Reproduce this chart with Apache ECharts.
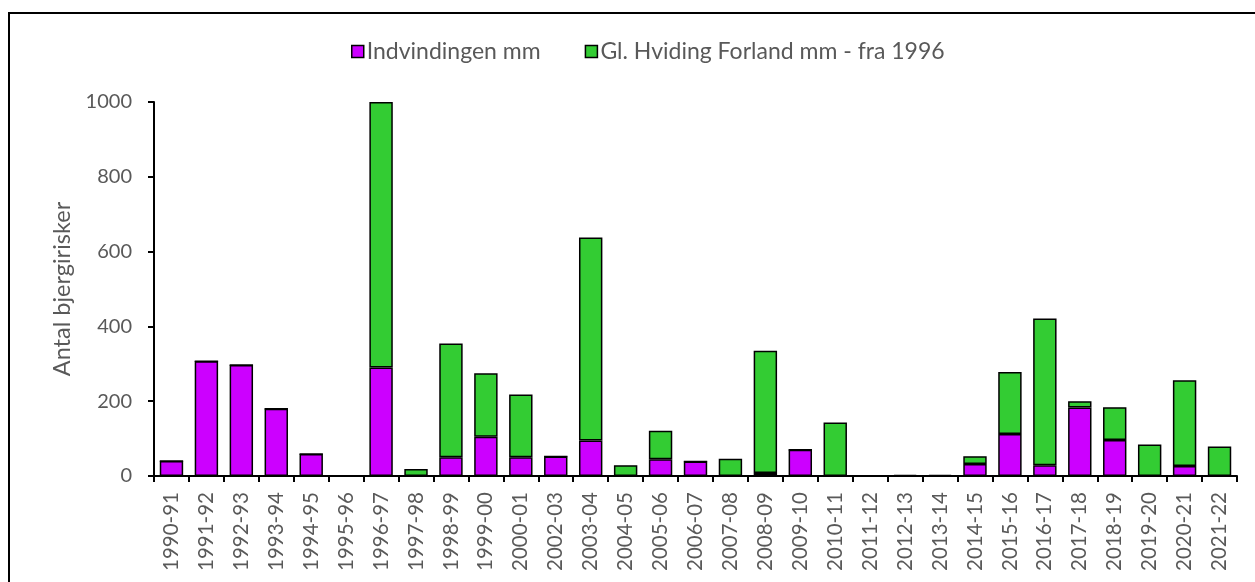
<!DOCTYPE html>
<html>
<head>
<meta charset="utf-8">
<script src="https://cdn.jsdelivr.net/npm/echarts@6/dist/echarts.min.js"></script>
<style>
  html, body { margin: 0; padding: 0; background: #fff; }
  #frame { position: absolute; left: 8px; top: 12px; width: 1260px; height: 600px; border: 2px solid #000; box-sizing: border-box; }
  #main { position: absolute; left: 0; top: 0; width: 1255px; height: 582px; }
</style>
</head>
<body>
<div id="frame"></div>
<div id="main"></div>
<script>
// sæsoner (2001-02 mangler i originalen)
var seasons = ['1990-91', '1991-92', '1992-93', '1993-94', '1994-95', '1995-96', '1996-97', '1997-98',
    '1998-99', '1999-00', '2000-01', '2002-03', '2003-04', '2004-05', '2005-06', '2006-07', '2007-08',
    '2008-09', '2009-10', '2010-11', '2011-12', '2012-13', '2013-14', '2014-15', '2015-16', '2016-17',
    '2017-18', '2018-19', '2019-20', '2020-21', '2021-22']

var indvindingen = [40, 307, 297, 180, 59, 0, 290, 0,
    50, 105, 50, 52, 95, 0, 45, 39, 0,
    8, 70, 0, 0, 0, 0, 32, 112, 29,
    183, 96, 0, 27, 0]

var hvidingForland = [0, 0, 0, 0, 0, 0, 710, 19,
    304, 170, 168, 0, 543, 29, 76, 0, 46,
    327, 0, 143, 0, 3, 3, 21, 166, 392,
    17, 88, 84, 229, 79]

var yTicks = [0, 200, 400, 600, 800, 1000]

var chart = echarts.init(document.getElementById('main'))

var barStyle = function (color) {
    return { color: color, borderColor: '#000', borderWidth: 1.5 }
}

chart.setOption({
    animation: false,
    textStyle: { fontFamily: 'Lato' },
    legend: {
        top: 35,
        left: 346,
        icon: 'rect',
        itemWidth: 12,
        itemHeight: 12,
        itemGap: 44,
        itemStyle: { borderColor: '#000', borderWidth: 1.5 },
        textStyle: { fontSize: 23, color: '#595959', fontFamily: 'Lato', padding: [0, 0, 0, -2] },
        data: ['Indvindingen mm', 'Gl. Hviding Forland mm - fra 1996']
    },
    grid: { left: 154, right: 18, top: 102, bottom: 106 },
    xAxis: {
        type: 'category',
        data: seasons,
        axisLine: { lineStyle: { color: '#000', width: 2 } },
        axisTick: { show: true, alignWithLabel: false, length: 6, lineStyle: { color: '#000', width: 2 } },
        axisLabel: { rotate: 90, interval: 0, fontSize: 20.5, color: '#595959', margin: 16, fontFamily: 'Lato' }
    },
    yAxis: {
        type: 'value',
        min: 0,
        max: yTicks[yTicks.length - 1],
        interval: 200,
        name: 'Antal bjergirisker',
        nameLocation: 'middle',
        nameGap: 80,
        nameTextStyle: { fontSize: 23.5, color: '#595959', fontFamily: 'Lato' },
        axisLine: { show: true, lineStyle: { color: '#000', width: 2 } },
        axisTick: { show: true, length: 6, lineStyle: { color: '#000', width: 2 } },
        axisLabel: { fontSize: 20, color: '#595959', margin: 22, fontFamily: 'Lato',
            formatter: function (v) { return String(v) } },
        splitLine: { show: false }
    },
    series: [
        {
            name: 'Indvindingen mm',
            type: 'bar',
            stack: 'total',
            barCategoryGap: '33%',
            itemStyle: barStyle('#CC00FF'),
            data: indvindingen
        },
        {
            name: 'Gl. Hviding Forland mm - fra 1996',
            type: 'bar',
            stack: 'total',
            barCategoryGap: '33%',
            itemStyle: barStyle('#33CC33'),
            data: hvidingForland
        }
    ]
})
</script>
</body>
</html>
